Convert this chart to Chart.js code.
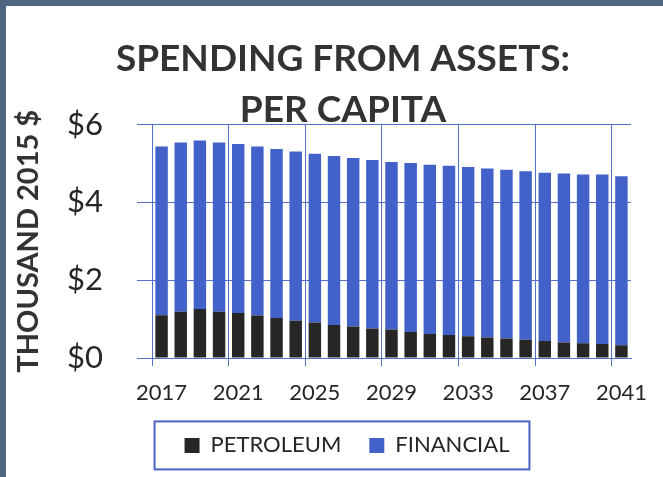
<!DOCTYPE html>
<html>
<head>
<meta charset="utf-8">
<script src="https://cdn.jsdelivr.net/npm/chart.js@4.4.0/dist/chart.umd.min.js"></script>
<style>
  html, body { margin: 0; padding: 0; background: #ffffff; }
  #frame { width: 657px; height: 471px; border-top: 6px solid #4e6682; border-left: 6px solid #4e6682; background: #ffffff; }
  #wrap { position: relative; width: 657px; height: 471px; }
</style>
</head>
<body>
<div id="frame"><div id="wrap"><canvas id="c"></canvas></div></div>
<script>
const years = ['2017','2018','2019','2020','2021','2022','2023','2024','2025','2026','2027','2028','2029',
               '2030','2031','2032','2033','2034','2035','2036','2037','2038','2039','2040','2041'];
const petroleum = [1.10,1.19,1.26,1.19,1.16,1.09,1.03,0.96,0.91,0.85,0.81,0.76,0.73,
                   0.67,0.62,0.59,0.56,0.53,0.50,0.47,0.44,0.40,0.38,0.36,0.33];
const financial = [4.34,4.35,4.33,4.35,4.34,4.35,4.34,4.35,4.34,4.34,4.33,4.33,4.31,
                   4.34,4.35,4.35,4.35,4.34,4.34,4.33,4.32,4.34,4.34,4.36,4.34];
const yTicks = [0, 2, 4, 6];
const titleLine1 = 'SPENDING FROM ASSETS:';
const titleLine2 = 'PER CAPITA';
const yTitle = 'THOUSAND 2015 $';

const GRID = '#5470c8';
const FONT = 'Lato, "Open Sans", sans-serif';

// shift the full-width title and legend blocks to match the original's centring
const shiftBlocks = {
  id: 'shiftBlocks',
  afterLayout(chart) {
    chart.boxes.forEach(b => {
      if (b === chart.legend) { b.left += 26; b.right += 26; }
      else if (b.position === 'top') { b.left += 22; b.right += 22; }
    });
  }
};

const legendBox = {
  id: 'legendBox',
  afterDraw(chart) {
    const boxes = chart.legend && chart.legend.legendHitBoxes;
    if (!boxes || !boxes.length) return;
    let l = Infinity, r = -Infinity, t = Infinity, b = -Infinity;
    boxes.forEach(h => { l = Math.min(l, h.left); r = Math.max(r, h.left + h.width); t = Math.min(t, h.top); b = Math.max(b, h.top + h.height); });
    const ctx = chart.ctx;
    ctx.save();
    ctx.strokeStyle = '#4a64c4';
    ctx.lineWidth = 2;
    ctx.strokeRect(l - 30, t - 13, (r - l) + 50, (b - t) + 26);
    ctx.restore();
  }
};

new Chart(document.getElementById('c'), {
  type: 'bar',
  data: {
    labels: years,
    datasets: [
      { label: 'PETROLEUM', data: petroleum, backgroundColor: '#262626', borderWidth: 0 },
      { label: 'FINANCIAL', data: financial, backgroundColor: '#4262c9', borderWidth: 0 }
    ]
  },
  options: {
    responsive: true,
    maintainAspectRatio: false,
    animation: false,
    datasets: { bar: { barPercentage: 0.65, categoryPercentage: 1.0 } },
    layout: { padding: { left: 5, right: 32, top: 35, bottom: 10.6 } },
    plugins: {
      title: {
        display: true,
        text: titleLine1,
        color: '#333333',
        font: { family: FONT, size: 37, weight: 'bold', lineHeight: 1.0 },
        padding: { top: 0, bottom: 17 }
      },
      subtitle: {
        display: true,
        text: titleLine2,
        color: '#333333',
        font: { family: FONT, size: 37, weight: 'bold', lineHeight: 0.8 },
        padding: { top: 0, bottom: 0 }
      },
      legend: {
        display: true,
        position: 'bottom',
        labels: {
          color: '#262626',
          font: { family: FONT, size: 22 },
          boxWidth: 15,
          boxHeight: 15,
          padding: 28
        }
      },
      tooltip: { enabled: false }
    },
    scales: {
      x: {
        stacked: true,
        offset: true,
        afterFit: axis => { axis.height = 48.4; },
        grid: {
          offset: true,
          color: ctx => (ctx.index % 4 === 0 && ctx.index < years.length) ? GRID : 'rgba(0,0,0,0)',
          lineWidth: 1,
          drawTicks: true,
          tickLength: 8
        },
        border: { display: true, color: GRID },
        ticks: {
          autoSkip: false,
          maxRotation: 0,
          color: '#262626',
          font: { family: FONT, size: 22 },
          padding: 14,
          callback: (v, i) => (i % 4 === 0 ? years[i] : '')
        }
      },
      y: {
        stacked: true,
        min: 0,
        max: 6,
        afterBuildTicks: axis => { axis.ticks = yTicks.map(v => ({ value: v })); },
        afterFit: axis => { axis.width = 141; },
        grid: { color: GRID, lineWidth: 1, drawTicks: true, tickLength: 15 },
        border: { display: true, color: GRID },
        ticks: {
          color: '#262626',
          font: { family: FONT, size: 31 },
          padding: 34,
          callback: v => '$' + v
        },
        title: {
          display: true,
          text: yTitle,
          color: '#333333',
          font: { family: FONT, size: 29, weight: 'bold' },
          padding: { top: 0, bottom: 0 }
        }
      }
    }
  },
  plugins: [shiftBlocks, legendBox]
});
</script>
</body>
</html>
